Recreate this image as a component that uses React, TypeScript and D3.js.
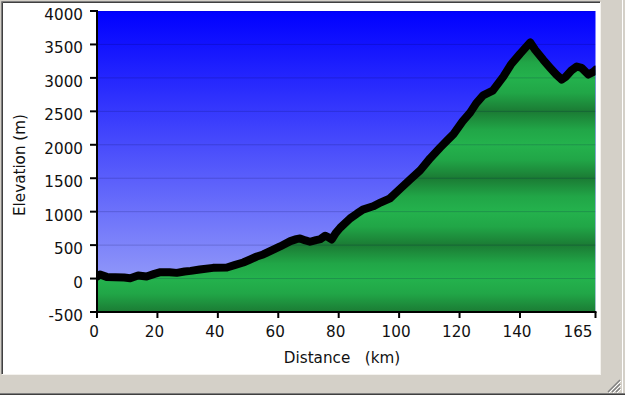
import React from "react";
import * as d3 from "d3";

const distanceKm = [0, 1, 3.2, 6, 9, 11, 13.6, 16.4, 19, 21, 24, 26.4, 29, 31, 34, 38.4, 43, 45.5, 48.4, 50.7, 52.9, 55, 57.3, 60.6, 64, 66, 67.2, 69, 70.5, 72.5, 74, 75.5, 76.5, 77.7, 79, 80.5, 83.8, 86, 88, 91.4, 94, 97, 100.3, 103.6, 107, 110.3, 113.6, 116, 118, 121, 123.5, 125.5, 127.8, 131, 134.5, 137, 140, 143.4, 145, 147.7, 150, 152, 153.8, 155, 157, 158.8, 160.4, 162.6, 164.3, 165];
const elevationM = [30, 60, 25, 20, 15, 5, 45, 30, 70, 95, 95, 85, 105, 115, 135, 160, 165, 200, 240, 285, 330, 360, 410, 480, 560, 590, 600, 570, 550, 575, 590, 640, 620, 585, 680, 760, 900, 970, 1030, 1080, 1140, 1200, 1340, 1480, 1620, 1800, 1960, 2070, 2160, 2350, 2480, 2620, 2740, 2810, 3020, 3200, 3360, 3530, 3420, 3270, 3150, 3050, 2975, 3010, 3110, 3170, 3150, 3050, 3090, 3120];
const yTicks = [-500, 0, 500, 1000, 1500, 2000, 2500, 3000, 3500, 4000];
const xTicks = [0, 20, 40, 60, 80, 100, 120, 140, 165];

const W = 625;
const H = 395;
const plot = { left: 97, right: 595.5, top: 11, bottom: 312 };
const FONT = "'DejaVu Sans', Verdana, sans-serif";
const FS = 15.2;

export default function App() {
  const x = d3.scaleLinear().domain([0, 165]).range([plot.left, plot.right]);
  const y = d3.scaleLinear().domain([-500, 4000]).range([plot.bottom, plot.top]);
  const pts = distanceKm.map((d, i) => [d, elevationM[i]] as [number, number]);
  const area = d3.area<[number, number]>().x(p => x(p[0])).y0(plot.bottom).y1(p => y(p[1]))(pts) || "";
  const line = d3.line<[number, number]>().x(p => x(p[0])).y(p => y(p[1]))(pts) || "";

  return (
    <svg width={W} height={H} style={{ position: "absolute", left: 0, top: 0 }} fontFamily={FONT}>
      <defs>
        <linearGradient id="sky" x1="0" y1="0" x2="0" y2="1">
          <stop offset="0" stopColor="#0000ff" />
          <stop offset="1" stopColor="#a2aaf8" />
        </linearGradient>
        <linearGradient id="grass" gradientUnits="userSpaceOnUse" x1="0" x2="0" y1={y(2000)} y2={y(2500)} spreadMethod="reflect">
          <stop offset="0" stopColor="#24b24d" />
          <stop offset="0.45" stopColor="#21a647" />
          <stop offset="1" stopColor="#1b7b34" />
        </linearGradient>
        <clipPath id="clip">
          <rect x={plot.left} y={plot.top} width={plot.right - plot.left} height={plot.bottom - plot.top} />
        </clipPath>
      </defs>
      {/* window frame */}
      <rect x={0} y={0} width={W} height={H} fill="#d4d0c8" />
      <rect x={3} y={3} width={597} height={371} fill="#ffffff" />
      <line x1={1.5} y1={1.5} x2={1.5} y2={374} stroke="#808080" />
      <line x1={1.5} y1={1.5} x2={600} y2={1.5} stroke="#808080" />
      <line x1={2.5} y1={2.5} x2={2.5} y2={374} stroke="#404040" />
      <line x1={2.5} y1={2.5} x2={600} y2={2.5} stroke="#404040" />
      <line x1={600.5} y1={2} x2={600.5} y2={374} stroke="#f4f2ee" />
      <line x1={2} y1={374.5} x2={601} y2={374.5} stroke="#f4f2ee" />
      <line x1={622.5} y1={0} x2={622.5} y2={395} stroke="#ffffff" />
      <line x1={0} y1={393.5} x2={W} y2={393.5} stroke="#808080" />
      <line x1={0} y1={394.5} x2={W} y2={394.5} stroke="#404040" />
      {[0, 4, 8].map(o => (
        <g key={o}>
          <line x1={620} y1={380 + o} x2={608 + o} y2={392} stroke="#808080" strokeWidth={1.5} />
          <line x1={621} y1={381 + o} x2={609 + o} y2={393} stroke="#ffffff" strokeWidth={1} />
        </g>
      ))}

      {/* plot */}
      <rect x={plot.left} y={plot.top} width={plot.right - plot.left} height={plot.bottom - plot.top} fill="url(#sky)" />
      <g clipPath="url(#clip)">
        <path d={area} fill="url(#grass)" />
        {yTicks.map(t => (
          <line key={t} x1={plot.left} x2={plot.right} y1={y(t)} y2={y(t)} stroke="#000040" strokeOpacity={0.18} />
        ))}
        <path d={line} fill="none" stroke="#000000" strokeWidth={8} strokeLinejoin="round" strokeLinecap="round" />
      </g>

      {/* axes */}
      <line x1={plot.left} x2={plot.left} y1={plot.top - 1} y2={plot.bottom + 1} stroke="#000" strokeWidth={2} />
      <line x1={plot.left - 1} x2={plot.right + 1} y1={plot.bottom} y2={plot.bottom} stroke="#000" strokeWidth={2} />
      {yTicks.map(t => (
        <g key={t}>
          <line x1={plot.left - 7} x2={plot.left} y1={y(t)} y2={y(t)} stroke="#000" strokeWidth={2} />
          <text x={83} y={y(t) + 9} fontSize={FS} textAnchor="end" fill="#111">{t}</text>
        </g>
      ))}
      {xTicks.map((t, i) => (
        <g key={t}>
          <line x1={x(t)} x2={x(t)} y1={plot.bottom} y2={plot.bottom + 6} stroke="#000" strokeWidth={2} />
          <text x={x(t) - 3} y={337} fontSize={FS} textAnchor={i === xTicks.length - 1 ? "end" : "middle"} fill="#111">{t}</text>
        </g>
      ))}
      <text x={342} y={363} fontSize={FS} textAnchor="middle" fill="#111" style={{ whiteSpace: "pre" }}>{"Distance   (km)"}</text>
      <text transform="translate(25,165) rotate(-90)" fontSize={FS} textAnchor="middle" fill="#111">Elevation (m)</text>
    </svg>
  );
}
